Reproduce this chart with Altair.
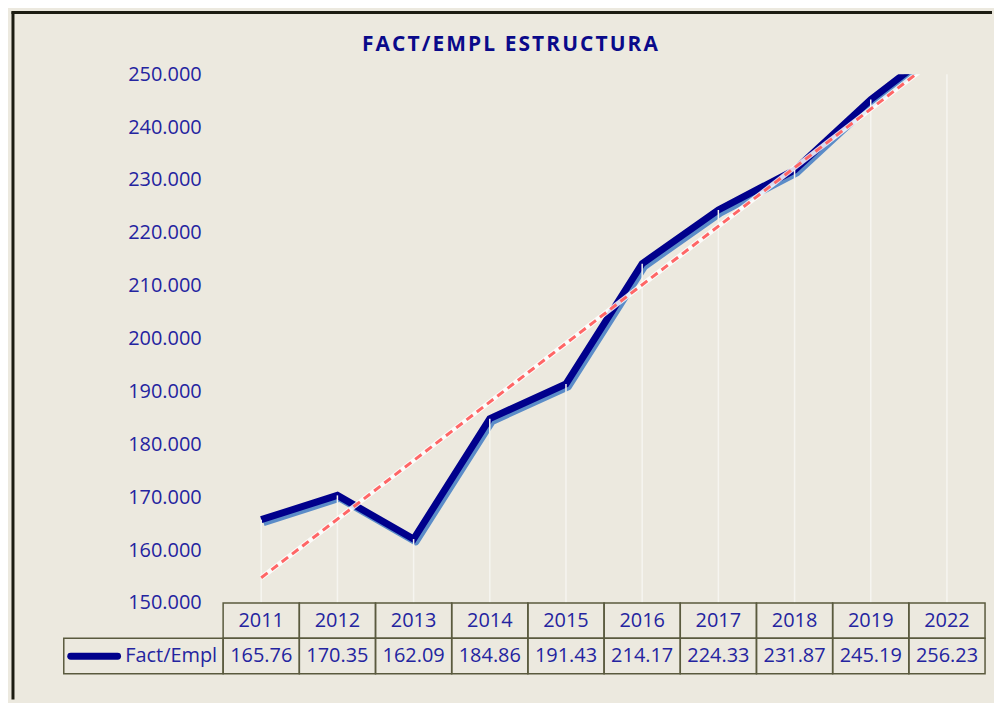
import altair as alt
import pandas as pd

# ---------------- data ----------------
years = ["2011", "2012", "2013", "2014", "2015", "2016", "2017", "2018", "2019", "2022"]
values = [165.76, 170.35, 162.09, 184.86, 191.43, 214.17, 224.33, 231.87, 245.19, 256.23]
y_ticks = [150, 160, 170, 180, 190, 200, 210, 220, 230, 240, 250]
series_name = "Fact/Empl"
title_text = "FACT/EMPL ESTRUCTURA"

# ---------------- style ----------------
BG = "#ECE9DF"
NAVY = "#00008C"
SHADOW = "#5B8CC8"
TREND = "#FF6666"
TEXT = "#2424A0"
TITLE_C = "#0A0A8A"
CELL = "#5A5A3E"
FRAME = "#1C1C12"
DROP = "#F6F5F0"
FONT = "Open Sans"

W = 765      # plot width
H = 531      # plot height
TH = 71      # data table height
n = len(years)
band = W / n

df = pd.DataFrame({"idx": list(range(1, n + 1)), "year": years, "value": values})
df["label"] = [f"{v:.2f}" for v in values]
one = pd.DataFrame({"k": [0]})

xscale = alt.Scale(domain=[0.5, n + 0.5], nice=False, zero=False)
yscale = alt.Scale(domain=[150, 250], nice=False, zero=False)
yaxis = alt.Axis(values=y_ticks, format=".3f", title=None, domain=False, ticks=False,
                 grid=False, labelPadding=22, labelFont=FONT, labelFontSize=20,
                 labelColor=TEXT, labelOverlap=False)


def X(field="idx"):
    return alt.X(f"{field}:Q", scale=xscale, axis=None)


def Y(field="value"):
    return alt.Y(f"{field}:Q", scale=yscale, axis=yaxis)


base = alt.Chart(df)

shadow = base.transform_calculate(
    sx="datum.idx + 0.03", sy="datum.value - 0.55"
).mark_line(color=SHADOW, strokeWidth=7, clip=True, strokeJoin="round").encode(
    x=X("sx"), y=Y("sy"))

main = base.mark_line(color=NAVY, strokeWidth=7, clip=True, strokeJoin="miter").encode(
    x=X(), y=Y())

drops = base.mark_rule(color=DROP, strokeWidth=1.5, clip=True).encode(
    x=X(), y=Y(), y2=alt.datum(150))

trend_glow = base.transform_regression("idx", "value").mark_line(
    color="#FFFFFF", strokeWidth=5, opacity=0.85, clip=True).encode(x=X(), y=Y())
trend = base.transform_regression("idx", "value").mark_line(
    color=TREND, strokeWidth=3, strokeDash=[8, 5], clip=True).encode(x=X(), y=Y())

spaced_title = "\u200a".join(list(title_text))
title = alt.Chart(one).mark_text(
    text=spaced_title, font=FONT, fontSize=21, fontWeight="bold",
    color=TITLE_C, align="center", baseline="middle"
).encode(x=alt.value(288), y=alt.value(-29))

frame_left = alt.Chart(one).mark_rule(color=FRAME, strokeWidth=3).encode(
    x=alt.value(-211), y=alt.value(-63), y2=alt.value(628))
frame_top = alt.Chart(one).mark_rule(color=FRAME, strokeWidth=3).encode(
    x=alt.value(-212.5), x2=alt.value(772), y=alt.value(-62))

top = alt.layer(shadow, main, drops, trend_glow, trend, title, frame_left, frame_top).properties(
    width=W, height=H)

# ---------------- data table ----------------
legend_left = 0.5 - 160 / band
cell_rows = []
for i in range(1, n + 1):
    cell_rows.append({"x0": i - 0.5, "x1": i + 0.5, "row": "year"})
    cell_rows.append({"x0": i - 0.5, "x1": i + 0.5, "row": "value"})
cell_rows.append({"x0": legend_left, "x1": 0.5, "row": "value"})
cells_df = pd.DataFrame(cell_rows)

rowscale = alt.Scale(domain=["year", "value"], paddingInner=0, paddingOuter=0)
RY = alt.Y("row:N", scale=rowscale, axis=None)

cells = alt.Chart(cells_df).mark_rect(fillOpacity=0, stroke=CELL, strokeWidth=1.5).encode(
    x=alt.X("x0:Q", scale=xscale, axis=None), x2="x1:Q", y=RY)

year_txt = base.transform_calculate(row="'year'").mark_text(
    font=FONT, fontSize=20, color=TEXT, baseline="middle").encode(x=X(), y=RY, text="year:N")
val_txt = base.transform_calculate(row="'value'").mark_text(
    font=FONT, fontSize=20, color=TEXT, baseline="middle").encode(x=X(), y=RY, text="label:N")

leg_line = alt.Chart(one).mark_rule(color=NAVY, strokeWidth=7, strokeCap="round").encode(
    x=alt.value(-153), x2=alt.value(-106), y=alt.value(53.5))
leg_txt = alt.Chart(one).mark_text(
    text=series_name, font=FONT, fontSize=20, color=TEXT, align="right", baseline="middle"
).encode(x=alt.value(-6), y=alt.value(53.5))

table = alt.layer(cells, year_txt, val_txt, leg_line, leg_txt).properties(width=W, height=TH)

chart = alt.vconcat(top, table, spacing=0, bounds="flush").properties(
    padding={"left": 2, "top": 0, "right": 0, "bottom": 0}
).configure(background=BG).configure_view(stroke=None)

chart.save("out.html", embed_options={"renderer": "svg", "actions": False})
